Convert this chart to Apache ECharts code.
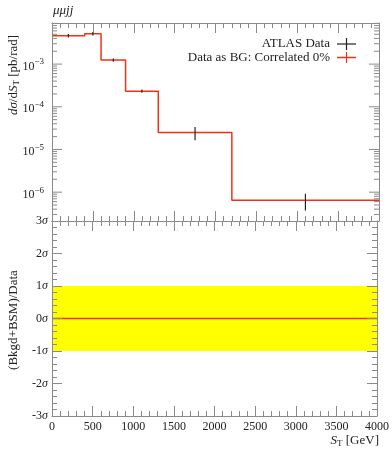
<!DOCTYPE html>
<html>
<head>
<meta charset="utf-8">
<script src="https://cdn.jsdelivr.net/npm/echarts@6/dist/echarts.min.js"></script>
<style>html,body{margin:0;padding:0;background:#fff;}#c{width:392px;height:450px;}</style>
</head>
<body>
<div id="c"></div>
<script>
// ---- data ----
var BIN_EDGES = [0, 400, 600, 900, 1300, 2200, 4000];
var BG_VALUES = [4.62e-3, 5.15e-3, 1.24e-3, 2.32e-4, 2.49e-5, 6.49e-7];
var DATA_CENTERS = [200, 500, 750, 1100, 1750, 3100];
var DATA_VALUES = [4.62e-3, 5.15e-3, 1.24e-3, 2.32e-4, 2.49e-5, 6.49e-7];
var DATA_LOW = [4.2e-3, 4.7e-3, 1.13e-3, 2.12e-4, 1.64e-5, 3.71e-7];
var DATA_HIGH = [5.1e-3, 5.65e-3, 1.36e-3, 2.54e-4, 3.37e-5, 9.18e-7];
var RATIO_VALUES = [0, 0, 0, 0, 0, 0];
var BAND_LOW = -1, BAND_HIGH = 1;
var TOP_LABEL_EXPONENTS = [-6, -5, -4, -3];
var RATIO_TICKS = [-3, -2, -1, 0, 1, 2, 3];
var X_TICKS = [0, 500, 1000, 1500, 2000, 2500, 3000, 3500, 4000];
var Y_MIN = 2.11e-7, Y_MAX = 9.18e-3;

var RED = '#ee3311', GREY = '#8a8a8a', FONT = '"Liberation Serif", "DejaVu Serif", serif';

function stepData(edges, vals) {
  var d = [];
  for (var i = 0; i < vals.length; i++) d.push([edges[i], vals[i]]);
  d.push([edges[edges.length - 1], vals[vals.length - 1]]);
  return d;
}

// log ticks (major decades + minor 2..9)
var logTicks = [];
for (var e = -7; e <= -2; e++) {
  for (var k = 1; k <= 9; k++) {
    var v = k * Math.pow(10, e);
    if (v >= Y_MIN && v <= Y_MAX) logTicks.push([0, v, k === 1 ? 1 : 0]);
  }
}

var chart = echarts.init(document.getElementById('c'));

function xAxisDef(grid, pos, labels) {
  return {
    type: 'value', gridIndex: grid, position: pos, min: 0, max: 4000, interval: 500, z: 5,
    axisLine: { show: true, onZero: false, lineStyle: { color: GREY, width: 1 } },
    axisTick: { show: true, inside: true, length: 10, lineStyle: { color: GREY } },
    minorTick: { show: true, splitNumber: 5, length: 5, lineStyle: { color: GREY } },
    splitLine: { show: false },
    axisLabel: { show: labels, color: '#222', fontFamily: FONT, fontSize: 12, margin: 5,
      formatter: function (v) { return String(v); } }
  };
}
function ratioY(pos, labels) {
  return {
    type: 'value', gridIndex: 1, position: pos, min: -3, max: 3, interval: 1, z: 5,
    axisLine: { show: true, onZero: false, lineStyle: { color: GREY, width: 1 } },
    axisTick: { show: true, inside: true, length: 10, lineStyle: { color: GREY } },
    minorTick: { show: true, splitNumber: 5, length: 5, lineStyle: { color: GREY } },
    splitLine: { show: false },
    axisLabel: {
      show: labels, margin: 4,
      formatter: function (v) { return '{n|' + v + '}{s|σ}'; },
      rich: {
        n: { fontFamily: FONT, fontSize: 12, color: '#222' },
        s: { fontFamily: FONT, fontSize: 12, fontStyle: 'italic', color: '#222' }
      }
    }
  };
}
function logY(pos) {
  return {
    type: 'log', logBase: 10, gridIndex: 0, position: pos, min: Y_MIN, max: Y_MAX, z: 5,
    axisLine: { show: true, onZero: false, lineStyle: { color: GREY, width: 1 } },
    axisTick: { show: false }, axisLabel: { show: false }, splitLine: { show: false }, minorTick: { show: false }
  };
}

var option = {
  animation: false,
  backgroundColor: '#fff',
  grid: [
    { left: 52, right: 13, top: 23, height: 198 },
    { left: 52, right: 13, top: 221, bottom: 34 }
  ],
  xAxis: [xAxisDef(0, 'bottom', false), xAxisDef(0, 'top', false), xAxisDef(1, 'bottom', true), xAxisDef(1, 'top', false)],
  yAxis: [logY('left'), logY('right'), ratioY('left', true), ratioY('right', false)],
  series: [
    {
      type: 'custom', name: 'logticks', xAxisIndex: 0, yAxisIndex: 0, z: 6, silent: true, clip: false,
      data: logTicks,
      renderItem: function (params, api) {
        var v = api.value(1), major = api.value(2);
        var pl = api.coord([0, v]), pr = api.coord([4000, v]);
        var len = major ? 10 : 5;
        return {
          type: 'group', children: [
            { type: 'line', shape: { x1: pl[0], y1: pl[1], x2: pl[0] + len, y2: pl[1] }, style: { stroke: GREY, lineWidth: 1 } },
            { type: 'line', shape: { x1: pr[0], y1: pr[1], x2: pr[0] - len, y2: pr[1] }, style: { stroke: GREY, lineWidth: 1 } }
          ]
        };
      }
    },
    {
      type: 'custom', name: 'loglabels', xAxisIndex: 0, yAxisIndex: 0, z: 6, silent: true, clip: false,
      data: TOP_LABEL_EXPONENTS.map(function (e) { return [0, Math.pow(10, e), e]; }),
      renderItem: function (params, api) {
        var p = api.coord([0, api.value(1)]);
        return {
          type: 'text', x: p[0] - 8, y: p[1] + 1,
          style: {
            text: '{b|10}{s|−' + Math.abs(api.value(2)) + '}',
            align: 'right', verticalAlign: 'middle',
            rich: {
              b: { fontFamily: FONT, fontSize: 12, fill: '#222', verticalAlign: 'bottom' },
              s: { fontFamily: FONT, fontSize: 9, fill: '#222', verticalAlign: 'top', padding: [0, 0, 6, 0] }
            }
          }
        };
      }
    },
    {
      type: 'line', name: 'Data as BG: Correlated 0%', xAxisIndex: 0, yAxisIndex: 0, z: 3,
      data: stepData(BIN_EDGES, BG_VALUES), step: 'end', showSymbol: false, symbol: 'none',
      lineStyle: { color: RED, width: 1.5 }
    },
    {
      type: 'custom', name: 'ATLAS Data', xAxisIndex: 0, yAxisIndex: 0, z: 4,
      data: DATA_CENTERS.map(function (c, i) { return [c, DATA_VALUES[i], DATA_LOW[i], DATA_HIGH[i]]; }),
      renderItem: function (params, api) {
        var lo = api.coord([api.value(0), api.value(2)]);
        var hi = api.coord([api.value(0), api.value(3)]);
        return { type: 'line', shape: { x1: lo[0], y1: lo[1], x2: hi[0], y2: hi[1] }, style: { stroke: '#222', lineWidth: 1.2 } };
      }
    },
    {
      type: 'line', name: 'ratio', xAxisIndex: 2, yAxisIndex: 2, z: 3,
      data: stepData(BIN_EDGES, RATIO_VALUES), step: 'end', showSymbol: false, symbol: 'none',
      lineStyle: { color: RED, width: 1.5 },
      markArea: {
        silent: true, itemStyle: { color: '#ffff00', opacity: 1 },
        data: [[{ xAxis: BIN_EDGES[0], yAxis: BAND_LOW }, { xAxis: BIN_EDGES[BIN_EDGES.length - 1], yAxis: BAND_HIGH }]]
      }
    }
  ],
  graphic: [
    { type: 'text', x: 53, y: 4, style: { text: 'μμjj', font: 'italic 13px ' + FONT, fill: '#222' } },
    {
      type: 'text', x: 14, y: 75, rotation: Math.PI / 2,
      style: {
        text: '{i|dσ}{n|/d}{i|S}{sub|T}{n| [pb/rad]}', align: 'center', verticalAlign: 'middle',
        rich: {
          i: { fontFamily: FONT, fontSize: 13, fontStyle: 'italic', fill: '#222' },
          n: { fontFamily: FONT, fontSize: 13, fill: '#222' },
          sub: { fontFamily: FONT, fontSize: 9, fill: '#222', verticalAlign: 'bottom', padding: [6, 0, 0, 0] }
        }
      }
    },
    {
      type: 'text', x: 14, y: 320, rotation: Math.PI / 2,
      style: { text: '(Bkgd+BSM)/Data', align: 'center', verticalAlign: 'middle', font: '13px ' + FONT, fill: '#222' }
    },
    {
      type: 'text', x: 379, y: 441,
      style: {
        text: '{i|S}{sub|T}{n| [GeV]}', align: 'right', verticalAlign: 'middle',
        rich: {
          i: { fontFamily: FONT, fontSize: 13, fontStyle: 'italic', fill: '#222' },
          n: { fontFamily: FONT, fontSize: 13, fill: '#222' },
          sub: { fontFamily: FONT, fontSize: 9, fill: '#222', verticalAlign: 'bottom', padding: [6, 0, 0, 0] }
        }
      }
    },
    { type: 'text', x: 330, y: 44, style: { text: 'ATLAS Data', align: 'right', verticalAlign: 'middle', font: '13px ' + FONT, fill: '#222' } },
    { type: 'line', shape: { x1: 337, y1: 44, x2: 356, y2: 44 }, style: { stroke: '#222', lineWidth: 1.2 } },
    { type: 'line', shape: { x1: 346.5, y1: 38, x2: 346.5, y2: 50 }, style: { stroke: '#222', lineWidth: 1.2 } },
    { type: 'text', x: 330, y: 57.5, style: { text: 'Data as BG: Correlated 0%', align: 'right', verticalAlign: 'middle', font: '13px ' + FONT, fill: '#222' } },
    { type: 'line', shape: { x1: 337, y1: 57.5, x2: 356, y2: 57.5 }, style: { stroke: RED, lineWidth: 1.5 } },
    { type: 'line', shape: { x1: 346.5, y1: 52, x2: 346.5, y2: 63 }, style: { stroke: RED, lineWidth: 1.2 } }
  ]
};
chart.setOption(option);
</script>
</body>
</html>
